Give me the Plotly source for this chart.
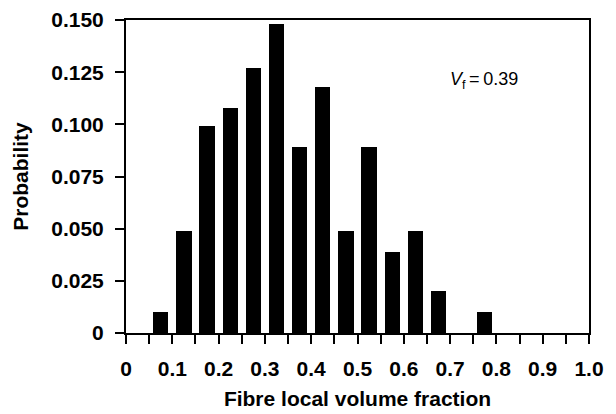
import plotly.graph_objects as go

# Bin centres (fibre local volume fraction) and probabilities
bin_centres = [0.075, 0.125, 0.175, 0.225, 0.275, 0.325, 0.375, 0.425,
               0.475, 0.525, 0.575, 0.625, 0.675, 0.725, 0.775]
probability = [0.010, 0.049, 0.099, 0.108, 0.127, 0.148, 0.089, 0.118,
               0.049, 0.089, 0.039, 0.049, 0.020, 0.0, 0.010]

x_tick_vals = [0, 0.1, 0.2, 0.3, 0.4, 0.5, 0.6, 0.7, 0.8, 0.9, 1.0]
x_tick_text = ["0", "0.1", "0.2", "0.3", "0.4", "0.5", "0.6", "0.7", "0.8", "0.9", "1.0"]
x_minor_vals = [0.05, 0.15, 0.25, 0.35, 0.45, 0.55, 0.65, 0.75, 0.85, 0.95]
y_tick_vals = [0, 0.025, 0.05, 0.075, 0.1, 0.125, 0.15]
y_tick_text = ["0", "0.025", "0.050", "0.075", "0.100", "0.125", "0.150"]

font_family = "Liberation Sans, Arial, sans-serif"
tick_font = dict(family=font_family, size=21, color="black", weight="bold")
title_font = dict(family=font_family, size=21, color="black", weight="bold")

fig = go.Figure()
fig.add_trace(go.Bar(x=bin_centres, y=probability, width=0.033,
                     marker=dict(color="black", line=dict(width=0)),
                     showlegend=False))

axis_common = dict(showline=True, linecolor="black", linewidth=2, mirror=True,
                   ticks="outside", ticklen=9, tickwidth=2, tickcolor="black",
                   showgrid=False, zeroline=False, tickfont=tick_font,
                   automargin=False)

fig.update_xaxes(range=[0, 1.0], tickmode="array", tickvals=x_tick_vals,
                 ticktext=x_tick_text,
                 minor=dict(tickmode="array", tickvals=x_minor_vals, ticks="outside",
                            ticklen=9, tickwidth=2, tickcolor="black", showgrid=False),
                 title=dict(text="Fibre local volume fraction", font=title_font, standoff=12),
                 ticklabelstandoff=7,
                 **axis_common)
fig.update_yaxes(range=[0, 0.15], tickmode="array", tickvals=y_tick_vals,
                 ticktext=y_tick_text,
                 title=dict(text="Probability", font=title_font, standoff=17),
                 ticklabelstandoff=7,
                 **axis_common)

fig.add_annotation(x=0.695, y=0.121, xref="x", yref="y",
                   text="<i>V</i><sub>f</sub>\u2009=\u20090.39", showarrow=False,
                   xanchor="left", yanchor="middle",
                   font=dict(family=font_family, size=18, color="black"))

fig.update_layout(width=616, height=414,
                  margin=dict(l=126, r=27, t=20, b=81),
                  plot_bgcolor="white", paper_bgcolor="white",
                  bargap=0)

fig.write_html("out.html")
